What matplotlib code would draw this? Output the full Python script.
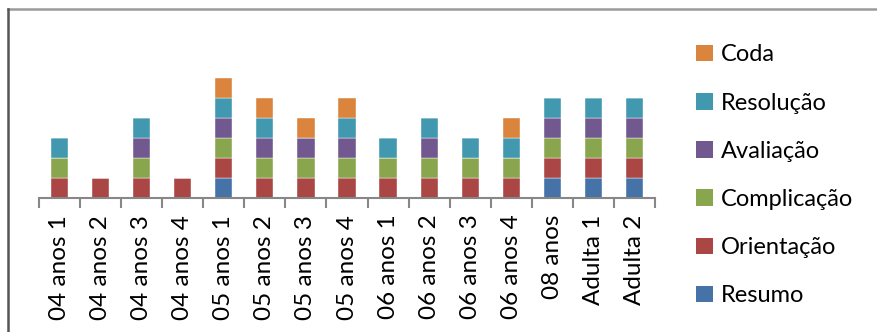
import matplotlib

matplotlib.use("Agg")
import matplotlib.pyplot as plt
import numpy as np
from matplotlib.lines import Line2D
from matplotlib.patches import Patch

plt.rcParams["font.family"] = ["Lato", "DejaVu Sans"]

categories = ["04 anos 1", "04 anos 2", "04 anos 3", "04 anos 4",
              "05 anos 1", "05 anos 2", "05 anos 3", "05 anos 4",
              "06 anos 1", "06 anos 2", "06 anos 3", "06 anos 4",
              "08 anos", "Adulta 1", "Adulta 2"]

# presence (1) / absence (0) of each narrative element, bottom to top
resumo      = [0, 0, 0, 0, 1, 0, 0, 0, 0, 0, 0, 0, 1, 1, 1]
orientacao  = [1, 1, 1, 1, 1, 1, 1, 1, 1, 1, 1, 1, 1, 1, 1]
complicacao = [1, 0, 1, 0, 1, 1, 1, 1, 1, 1, 1, 1, 1, 1, 1]
avaliacao   = [0, 0, 1, 0, 1, 1, 1, 1, 0, 1, 0, 0, 1, 1, 1]
resolucao   = [1, 0, 1, 0, 1, 1, 0, 1, 1, 1, 1, 1, 1, 1, 1]
coda        = [0, 0, 0, 0, 1, 1, 1, 1, 0, 0, 0, 1, 0, 0, 0]

series = [
    ("Resumo", resumo, "#4572A7"),
    ("Orientação", orientacao, "#AA4643"),
    ("Complicação", complicacao, "#89A54E"),
    ("Avaliação", avaliacao, "#71588F"),
    ("Resolução", resolucao, "#4198AF"),
    ("Coda", coda, "#DB843D"),
]

fig = plt.figure(figsize=(8.77, 3.32), dpi=100)
ax = fig.add_axes([39 / 877, 1 - 198 / 332, (655 - 39) / 877, 140 / 332])

x = np.arange(len(categories))
bottom = np.zeros(len(categories))
for name, vals, color in series:
    vals = np.array(vals, dtype=float)
    ax.bar(x, vals, bottom=bottom, width=0.42, color=color,
           edgecolor="white", linewidth=0.3, label=name)
    bottom += vals

ax.set_xlim(-0.5, len(categories) - 0.5)
ax.set_ylim(0, 7)
for s in ("top", "right", "left"):
    ax.spines[s].set_visible(False)
ax.spines["bottom"].set_color("#878787")
ax.spines["bottom"].set_linewidth(1.5)
ax.set_yticks([])

# category labels centred, tick marks between categories
ax.set_xticks(x)
ax.set_xticklabels(categories, rotation=90, fontsize=17.5)
ax.tick_params(axis="x", which="major", length=0, pad=12)
ax.set_xticks(np.arange(-0.5, len(categories)), minor=True)
ax.tick_params(axis="x", which="minor", length=7, width=1.5, color="#878787")

handles = [Patch(facecolor=c, label=n) for n, _, c in series][::-1]
fig.legend(handles=handles, loc="upper left", bbox_to_anchor=(687 / 877, 1 - 35 / 332),
           frameon=False, fontsize=17, handlelength=0.7, handleheight=0.7,
           handletextpad=0.35, labelspacing=1.15, borderaxespad=0)

# chart area border (only top and left visible in the crop)
fig.add_artist(Line2D([8 / 877, 1], [1 - 9 / 332, 1 - 9 / 332], color="#9a9a9a",
                      linewidth=1.8, transform=fig.transFigure))
fig.add_artist(Line2D([8 / 877, 8 / 877], [0, 1 - 9 / 332], color="#555555",
                      linewidth=1.8, transform=fig.transFigure))

fig.savefig("out.png", dpi=100)
